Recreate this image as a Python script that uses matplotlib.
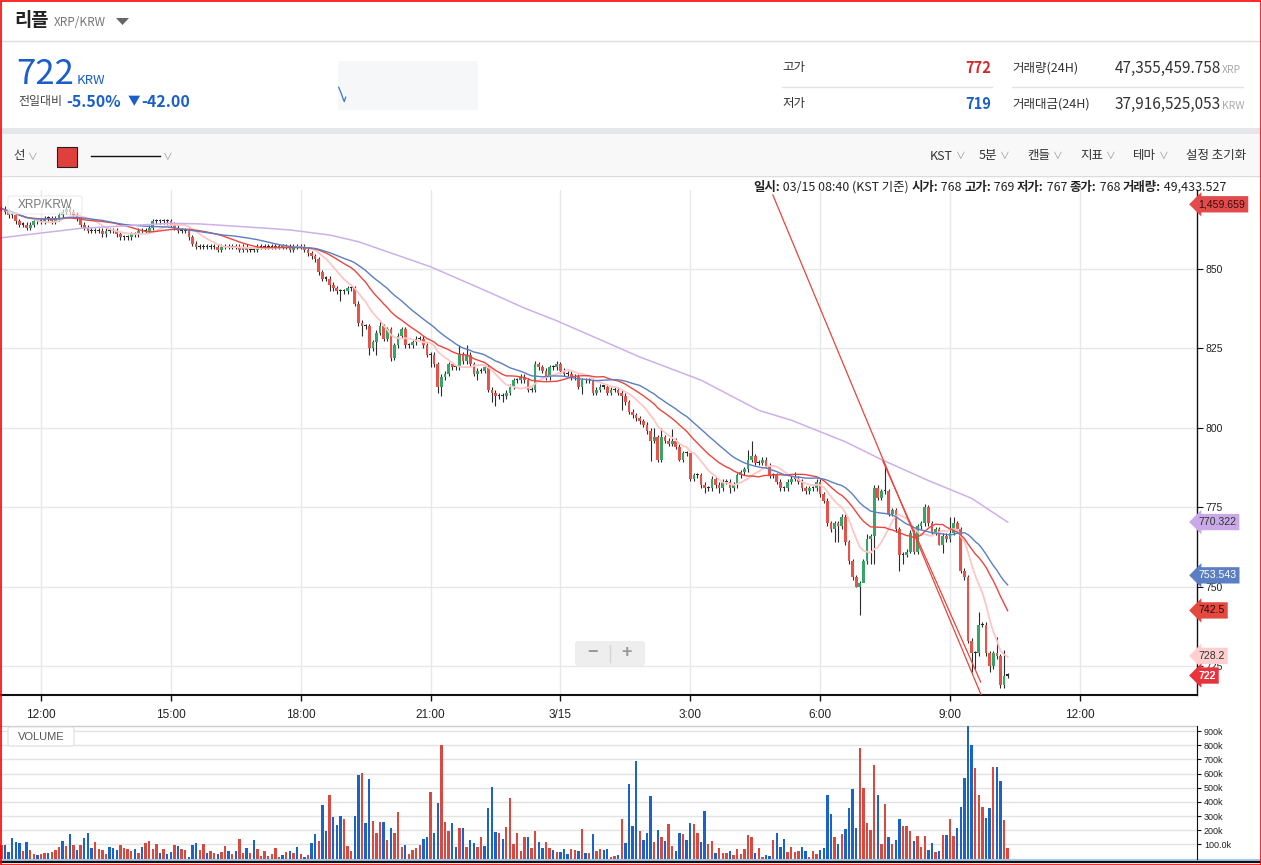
import numpy as np
import pandas as pd
import matplotlib
matplotlib.use("Agg")
import matplotlib.pyplot as plt
from matplotlib.patches import Rectangle, FancyBboxPatch, Polygon
from matplotlib.transforms import blended_transform_factory

W, H = 1261, 865
KR = ["Noto Sans CJK KR", "DejaVu Sans"]
AR = ["Liberation Sans", "DejaVu Sans"]
NAR = ["Liberation Sans Narrow", "Liberation Sans", "DejaVu Sans"]

# ---------------- data ----------------
# 5-minute closes, 03/14 11:00 -> 03/15 10:20 (one row per hour)
closes = [
    869, 869, 868, 867, 867, 865, 864, 864, 863, 864, 865, 865,  # 11
    865, 866, 866, 865, 866, 867, 868, 869, 868, 867, 866, 864,  # 12
    863, 862, 862, 862, 862, 861, 862, 862, 862, 861, 860, 860,  # 13
    860, 861, 861, 862, 862, 862, 863, 865, 865, 865, 865, 865,  # 14
    864, 863, 862, 862, 862, 860, 858, 857, 857, 857, 857, 857,  # 15
    857, 856, 857, 857, 857, 857, 857, 856, 857, 856, 856, 856,  # 16
    857, 857, 857, 857, 857, 857, 857, 857, 857, 856, 857, 857,  # 17
    857, 856, 855, 854, 853, 849, 847, 847, 845, 844, 843, 843,  # 18
    843, 844, 844, 839, 833, 832, 832, 825, 827, 830, 832, 828,  # 19
    831, 822, 826, 829, 831, 826, 826, 827, 828, 828, 826, 823,  # 20
    823, 820, 813, 816, 817, 820, 819, 819, 823, 821, 823, 820,  # 21
    817, 818, 818, 819, 812, 811, 810, 810, 810, 811, 813, 815,  # 22
    815, 816, 815, 812, 812, 820, 819, 818, 816, 819, 819, 820,  # 23
    818, 817, 817, 816, 816, 813, 815, 815, 815, 811, 812, 813,  # 00
    813, 811, 812, 812, 811, 810, 808, 805, 804, 803, 802, 801,  # 01
    799, 796, 797, 790, 797, 796, 795, 796, 794, 790, 792, 792,  # 02
    784, 785, 785, 782, 781, 781, 784, 782, 781, 783, 783, 781,  # 03
    782, 785, 786, 787, 790, 791, 789, 789, 790, 788, 785, 785,  # 04
    783, 781, 781, 783, 784, 784, 783, 781, 780, 781, 781, 783,  # 05
    779, 777, 770, 768, 770, 769, 772, 764, 758, 753, 750, 751,  # 06
    758, 765, 766, 781, 778, 780, 780, 773, 774, 768, 760, 760,  # 07
    761, 767, 761, 769, 770, 775, 770, 767, 768, 763, 766, 765,  # 08
    767, 770, 768, 755, 753, 733, 729, 729, 738, 738, 729, 725,  # 09
    729, 728, 719, 722, 722,                                     # 10
]
first_open = 869

# long wicks (candle index -> price)
wick_high = {101: 834, 106: 834, 128: 826, 130: 826, 149: 821, 155: 821,
             182: 800, 184: 800, 187: 799.5, 192: 790, 203: 784, 208: 793,
             209: 796, 221: 786, 241: 766.5, 242: 766.5, 243: 782, 244: 782,
             246: 788.5, 257: 776, 264: 772, 265: 772, 272: 742, 277: 734,
             279: 730}
wick_low = {92: 843, 95: 840, 101: 829, 103: 823, 105: 823, 109: 821,
            120: 819, 122: 811, 123: 810, 133: 815, 137: 808, 138: 807,
            140: 808, 162: 810.5, 173: 805.5, 176: 803, 181: 789.5,
            189: 789.5, 196: 779.5, 200: 779.5, 203: 779.5, 232: 764,
            233: 764, 238: 750, 239: 741, 240: 754, 242: 757, 243: 757,
            250: 755, 251: 757, 253: 760.5, 261: 763, 262: 760.5, 270: 723,
            271: 724, 275: 723}

# volume in thousands, same candles
volumes = [
    90, 95, 95, 48, 143, 117, 110, 52, 117, 60, 31, 24,
    31, 40, 40, 48, 60, 81, 124, 88, 174, 95, 60, 95,
    145, 181, 74, 117, 67, 60, 31, 81, 74, 60, 95, 74,
    67, 52, 67, 40, 81, 110, 124, 67, 102, 38, 67, 31,
    45, 95, 88, 67, 60, 10, 95, 110, 60, 102, 38, 52,
    38, 31, 45, 88, 52, 31, 52, 138, 38, 74, 38, 131,
    67, 17, 52, 17, 31, 74, 10, 24, 45, 52, 38, 81,
    31, 10, 24, 110, 174, 124, 381, 195, 452, 295, 238, 302,
    281, 88, 52, 302, 588, 602, 252, 560, 267, 181, 260, 260,
    131, 217, 181, 331, 81, 95, 31, 60, 74,
    95, 138, 152, 471, 181, 395, 802, 260, 195, 252, 81, 217,
    217, 81, 131, 110, 81, 152, 88, 360, 502, 188, 181, 138,
    224, 431, 102, 181, 52, 152, 152, 74, 195, 117, 74, 117,
    74, 60, 45, 45, 67, 31, 67, 60, 52, 210, 38, 38,
    174, 52, 67, 60, 67, 10, 17, 24, 281, 110, 524, 231,
    688, 195, 131, 181, 445, 117, 202, 152, 124, 245, 88, 52,
    181, 174, 131, 252, 245, 181, 117, 338, 102, 124, 38, 74,
    38, 38, 52, 24, 67, 31, 67, 167, 152, 38, 74, 10,
    24, 17, 131, 181, 81, 138, 45, 81, 45, 52, 81, 52,
    10, 52, 31,
    60, 74, 452, 317, 152, 102, 174, 210, 360, 488, 217, 781,
    495, 252, 202, 660, 452, 102, 388, 150, 102, 131, 281, 231,
    231, 195, 124, 160, 81, 159, 60, 110, 45, 52, 167, 167,
    281, 160, 217, 367, 567, 945, 802, 638, 452, 367, 288, 360,
    645, 645, 545, 274, 74,
]
vol_colors = ("brbbbbbrbrrb rrbrrrbrbrbr bbbrrrrbbbrr rrbrbrrrrbrb "
              "brbrrbbbrrbr rbrrbrbrrbrb rrrrrrrbrbrb rbrbbrbbrbbb "
              "rrrbbrbbrrrb rbrrrbrrr "
              "rbbrbbrrrbbr brbbrrbbbbrb rrrrrrbrrbbr rbrbbbrrbrbr "
              "brrbbrrbrbbb brbbbrbrbrrb brbbrrbbrrbr rrbrrrrrrbrr "
              "bbrbbbrrrrbb rrr "
              "bbbbrbrbbbbr rrrrbrrbrbbr rrbrrrbbrbrb rrbbbbbrrrbb rbbrr").replace(" ", "")

# long moving average (purple) read at a few candles
purple_idx = [0, 23, 48, 56, 75, 81, 92, 100, 120, 136, 146, 155, 178, 195,
              211, 220, 235, 245, 258, 270, 280]
purple_val = [859.7, 862.8, 864.4, 864.2, 862.8, 862.3, 860.7, 858.6, 850.7,
              842.8, 837.7, 833.7, 822.3, 815.0, 805.5, 802.4, 795.6, 790.0,
              783.4, 777.8, 770.3]

# drawn trend lines (candle index, price)
trend_a_idx = [214.9, 272.9]
trend_a_val = [873.3, 715.2]
trend_b_idx = [245.4, 272.5]
trend_b_val = [789.5, 720.0]

time_ticks = [12, 48, 84, 120, 156, 192, 228, 264, 300]
time_labels = ["12:00", "15:00", "18:00", "21:00", "3/15", "3:00", "6:00", "9:00", "12:00"]
price_ticks = [725, 750, 775, 800, 825, 850]
vol_ticks = [100, 200, 300, 400, 500, 600, 700, 800, 900]
vol_labels = ["100.0k", "200k", "300k", "400k", "500k", "600k", "700k", "800k", "900k"]

tags = [("1,459.659", 1459.659, "#e24b4b", "#3a0d0d"),
        ("770.322", 770.322, "#c9aae6", "#333333"),
        ("753.543", 753.543, "#5c7ec2", "white"),
        ("742.5", 742.5, "#e4493f", "#2a0a0a"),
        ("728.2", 728.2, "#ffcfcf", "#333333"),
        ("722", 722, "#e8323c", "white")]

info_parts = [("일시:", "bold"), (" 03/15 08:40 (KST 기준) ", "normal"),
              ("시가:", "bold"), (" 768 ", "normal"), ("고가:", "bold"), (" 769 ", "normal"),
              ("저가:", "bold"), (" 767 ", "normal"), ("종가:", "bold"), (" 768 ", "normal"),
              ("거래량:", "bold"), (" 49,433.527", "normal")]

spark = [0.85, 0.7, 0.55, 0.35, 0.2, 0.4]

# ---------------- figure ----------------
fig = plt.figure(figsize=(W / 100, H / 100), dpi=100)

bg = fig.add_axes([0, 0, 1, 1], zorder=0)
bg.set_xlim(0, W)
bg.set_ylim(H, 0)
bg.axis("off")
bg.add_patch(Rectangle((0, 0), W, H, fc="white", ec="none"))

# header
bg.text(14, 21, "리플", family=KR, fontsize=13.5, weight="bold", color="#222", va="center")
bg.text(54, 22, "XRP/KRW", family=KR, fontsize=8.5, color="#777", va="center")
bg.add_patch(Polygon([(116, 18), (129, 18), (122.5, 25)], closed=True, fc="#666", ec="none"))
bg.plot([0, W], [40.5, 40.5], color="#dedede", lw=1)

bg.text(16, 84, "722", family=KR, fontsize=25, weight="medium", color="#1a5fc9", va="baseline")
bg.text(77, 84, "KRW", family=KR, fontsize=9.5, color="#1a5fc9", va="baseline")
bg.text(18, 102, "전일대비", family=KR, fontsize=8.6, color="#444", va="center")
bg.text(66, 102, "-5.50%", family=KR, fontsize=11.5, weight="bold", color="#1a5fc9", va="center")
bg.text(128, 102, "▼", family=KR, fontsize=9, color="#1a5fc9", va="center")
bg.text(141, 102, "-42.00", family=KR, fontsize=11.5, weight="bold", color="#1a5fc9", va="center")
bg.add_patch(Rectangle((338, 61), 140, 49, fc="#f6f7f9", ec="none"))
sp = fig.add_axes([338 / W, 1 - 106 / H, 140 / W, 22 / H])
sp.plot(range(len(spark)), spark, color="#3b74d0", lw=0.9)
sp.set_xlim(-0.5, 100)
sp.set_ylim(0, 1)
sp.axis("off")

bg.text(782, 68, "고가", family=KR, fontsize=9, color="#333", va="center")
bg.text(991, 68, "772", family=KR, fontsize=10.5, weight="bold", color="#d9262c", va="center", ha="right")
bg.text(782, 104, "저가", family=KR, fontsize=9, color="#333", va="center")
bg.text(991, 104, "719", family=KR, fontsize=10.5, weight="bold", color="#1a5fc9", va="center", ha="right")
bg.plot([782, 992], [86.5, 86.5], color="#e3e3e3", lw=1)
bg.plot([1012, 1243], [86.5, 86.5], color="#e3e3e3", lw=1)
bg.text(1012, 68, "거래량(24H)", family=KR, fontsize=9, color="#333", va="center")
bg.text(1221, 68, "47,355,459.758", family=KR, fontsize=11, color="#333", va="center", ha="right")
bg.text(1222, 70, "XRP", family=KR, fontsize=7.5, color="#aaa", va="center")
bg.text(1012, 104, "거래대금(24H)", family=KR, fontsize=9, color="#333", va="center")
bg.text(1221, 104, "37,916,525,053", family=KR, fontsize=11, color="#333", va="center", ha="right")
bg.text(1222, 106, "KRW", family=KR, fontsize=7.5, color="#aaa", va="center")

# toolbar
bg.add_patch(Rectangle((0, 128), W, 6, fc="#e4e6ea", ec="none"))
bg.add_patch(Rectangle((0, 134), W, 41, fc="#f8f8f8", ec="none"))
bg.plot([0, W], [175.5, 175.5], color="#dcdcdc", lw=1)
bg.text(13, 156, "선", family=KR, fontsize=9, color="#333", va="center")
bg.text(28, 157, "∨", family=KR, fontsize=7, color="#999", va="center")
bg.add_patch(Rectangle((57, 147), 20, 20, fc="#e0403c", ec="#222", lw=0.8))
bg.plot([91, 160], [156, 156], color="#111", lw=1)
bg.text(163, 157, "∨", family=KR, fontsize=7, color="#999", va="center")
for label, x in [("KST", 930), ("5분", 979), ("캔들", 1027), ("지표", 1080), ("테마", 1133)]:
    t = bg.text(x, 156, label, family=KR, fontsize=9, color="#333", va="center")
    bg.annotate("∨", xy=(1, 0.5), xycoords=t, xytext=(2, 0), textcoords="offset points",
                family=KR, fontsize=7, color="#999", va="center")
bg.text(1186, 156, "설정 초기화", family=KR, fontsize=9, color="#333", va="center")

# info line
prev = None
for s, w in info_parts:
    if prev is None:
        prev = bg.text(753, 194, s, family=KR, fontsize=8.95, weight=w, color="#222", va="bottom")
    else:
        prev = bg.annotate(s, xy=(1, 0), xycoords=prev, family=KR, fontsize=8.95, weight=w,
                           color="#222", va="bottom", ha="left")

# separators around x-axis band / volume
bg.plot([0, 1197], [725.5, 725.5], color="#cccccc", lw=1)
bg.plot([0, W], [860.2, 860.2], color="#a9ccee", lw=1.6)
bg.plot([0, W], [862.2, 862.2], color="#111111", lw=1.6)

# ---------------- price panel ----------------
n = len(closes)
idx = np.arange(n)
c = np.array(closes, dtype=float)
o = np.r_[first_open, c[:-1]]
body_top = np.maximum(o, c)
body_bot = np.minimum(o, c)
hi = body_top + 0.8
lo = body_bot - 0.8
for k, v in wick_high.items():
    hi[k] = v
for k, v in wick_low.items():
    lo[k] = v

x0 = 12 - 41 / 3.607
x1 = 12 + (1197 - 41) / 3.607
ax = fig.add_axes([0, (H - 695) / H, 1197 / W, (695 - 190) / H], zorder=2)
ax.set_facecolor("none")
ax.set_xlim(x0, x1)
ax.set_ylim(725 - 29 / 3.176, 850 + 79 / 3.176)

ax.vlines(idx, lo, hi, color="#2b2b2b", lw=0.8, zorder=3)
cols = np.where(c > o, "#35a56a", np.where(c < o, "#e5534b", "#2b2b2b"))
heights = np.maximum(body_top - body_bot, 0.35)
ax.bar(idx, heights, bottom=body_bot, width=0.74, color=cols, zorder=4)

s = pd.Series(c)
ax.plot(idx, s.rolling(10, min_periods=1).mean(), color="#ffc6c6", lw=1.3, zorder=5)
ax.plot(idx, s.rolling(20, min_periods=1).mean(), color="#e8473f", lw=1.0, zorder=5)
ax.plot(idx, s.rolling(30, min_periods=1).mean(), color="#5b7ec2", lw=1.0, zorder=5)
ax.plot(purple_idx, purple_val, color="#cdb0ea", lw=1.1, zorder=5)
ax.plot(trend_a_idx, trend_a_val, color="#e8453c", lw=0.9, zorder=6)
ax.plot(trend_b_idx, trend_b_val, color="#e8453c", lw=0.9, zorder=6)

ax.set_xticks(time_ticks)
ax.set_xticklabels(time_labels, family=NAR, fontsize=8.5, color="#222")
ax.set_yticks(price_ticks)
ax.set_yticklabels([str(v) for v in price_ticks], family=AR, fontsize=7.5, color="#222")
ax.yaxis.tick_right()
ax.tick_params(axis="x", length=4, width=1, pad=6, color="#111")
ax.tick_params(axis="y", length=4, width=0.8, pad=2, color="#111")
ax.grid(True, color="#e8e8e8", lw=1)
ax.set_axisbelow(True)
for side in ["top", "left"]:
    ax.spines[side].set_visible(False)
ax.spines["right"].set_color("#111")
ax.spines["right"].set_linewidth(1)
ax.spines["bottom"].set_color("#111")
ax.spines["bottom"].set_linewidth(1.5)

trans = blended_transform_factory(ax.transAxes, ax.transData)
ytop = ax.get_ylim()[1]
for label, val, fc, tc in tags:
    ax.text(1.001, min(val, ytop - 4.5), label, transform=trans, family=AR, fontsize=7.6,
            color=tc, ha="left", va="center", clip_on=False, zorder=10,
            weight="bold" if label == "722" else "normal",
            bbox=dict(boxstyle="larrow,pad=0.3", fc=fc, ec="none"))

# ---------------- volume panel ----------------
axv = fig.add_axes([0, (H - 858.5) / H, 1197 / W, (858.5 - 725.5) / H], zorder=2)
axv.set_facecolor("none")
axv.set_xlim(x0, x1)
axv.set_ylim(0, 940)
vcols = ["#d9493f" if ch == "r" else "#1b63c9" for ch in vol_colors]
axv.bar(idx, volumes, width=0.66, color=vcols, zorder=3)
axv.set_yticks(vol_ticks)
axv.set_yticklabels(vol_labels, family=AR, fontsize=6.5, color="#222")
axv.yaxis.tick_right()
axv.set_xticks([])
axv.tick_params(axis="y", length=3, width=0.8, pad=2, color="#111")
axv.grid(True, axis="y", color="#e3e3e3", lw=1)
axv.set_axisbelow(True)
for side in ["top", "left", "bottom"]:
    axv.spines[side].set_visible(False)
axv.spines["right"].set_color("#111")

# ---------------- overlays ----------------
ov = fig.add_axes([0, 0, 1, 1], zorder=5)
ov.set_xlim(0, W)
ov.set_ylim(H, 0)
ov.axis("off")
ov.patch.set_alpha(0)
ov.add_patch(FancyBboxPatch((8, 196), 74, 18, boxstyle="round,pad=0,rounding_size=2",
                            fc="white", ec="#e2e2e2", lw=0.8, alpha=0.65))
ov.text(18, 205.5, "XRP/KRW", family=AR, fontsize=8.5, color="#777", va="center")
ov.add_patch(FancyBboxPatch((8, 727), 66, 19, boxstyle="round,pad=0,rounding_size=2",
                            fc="white", ec="#dddddd", lw=0.8))
ov.text(41, 736.5, "VOLUME", family=AR, fontsize=8, color="#555", va="center", ha="center")
ov.add_patch(FancyBboxPatch((575, 641), 70, 25, boxstyle="round,pad=0,rounding_size=3",
                            fc="#eeeeee", ec="none"))
ov.text(592, 653, "−", family=AR, fontsize=13, weight="bold", color="#999", va="center", ha="center")
ov.text(627, 653, "+", family=AR, fontsize=13, weight="bold", color="#999", va="center", ha="center")
ov.plot([610, 610], [645, 662], color="#d4d4d4", lw=1)
ov.add_patch(Rectangle((0.5, 0.5), W - 1, H - 1, fill=False, ec="#ff0000", lw=1.2))

fig.savefig("out.png", dpi=100)
